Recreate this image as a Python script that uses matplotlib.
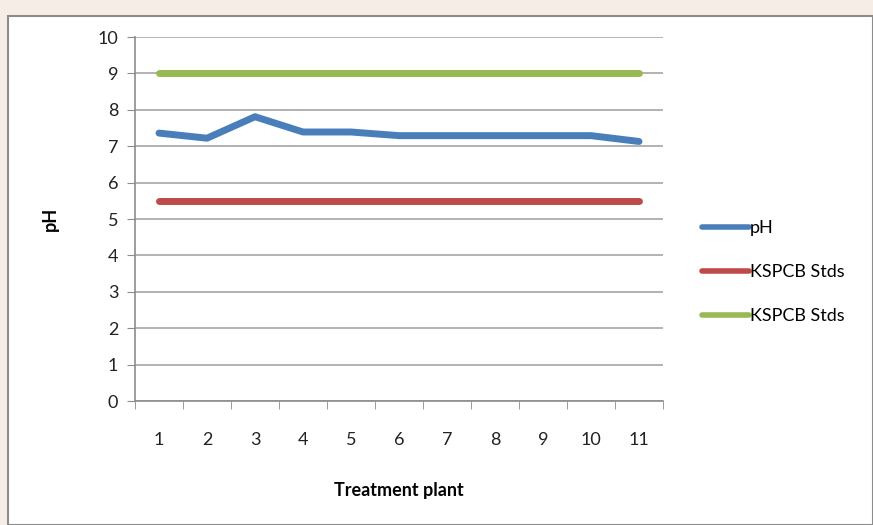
import matplotlib.pyplot as plt
from matplotlib.patches import Rectangle
from matplotlib.lines import Line2D

categories = [1, 2, 3, 4, 5, 6, 7, 8, 9, 10, 11]
ph = [7.36, 7.22, 7.81, 7.39, 7.39, 7.29, 7.29, 7.29, 7.29, 7.29, 7.13]
kspcb_low = [5.5] * 11
kspcb_high = [9.0] * 11
series_names = ["pH", "KSPCB Stds", "KSPCB Stds"]
colors = ["#4a7ebb", "#be4b48", "#98b954"]

plt.rcParams['font.family'] = ['Lato', 'DejaVu Sans']

fig = plt.figure(figsize=(8.73, 5.25), dpi=100)
fig.patch.set_facecolor("#f6eee6")
fig.add_artist(Rectangle((8/873, 0), 1 - 8/873, 1 - 16/525, transform=fig.transFigure,
                         facecolor="white", edgecolor="#8c8c8c", linewidth=1.5, zorder=0))

ax = fig.add_axes([135/873, 1 - 401/525, 528/873, 364/525])
ax.set_facecolor("white")
x = list(range(len(categories)))
l1, = ax.plot(x, ph, color=colors[0], lw=5, solid_capstyle='round', solid_joinstyle='round', zorder=3)
l2, = ax.plot(x, kspcb_low, color=colors[1], lw=5, solid_capstyle='round', zorder=3)
l3, = ax.plot(x, kspcb_high, color=colors[2], lw=5, solid_capstyle='round', zorder=3)

ax.set_xlim(-0.5, len(categories) - 0.5)
ax.set_ylim(0, 10)
ax.set_yticks(range(0, 11))
ax.set_xticks(x)
ax.set_xticklabels([str(c) for c in categories])
ax.set_xticks([i - 0.5 for i in range(len(categories) + 1)], minor=True)
ax.tick_params(axis='x', which='major', length=0, pad=22, labelsize=13, colors='#222222')
ax.tick_params(axis='x', which='minor', length=6, color='#8c8c8c', direction='out')
ax.tick_params(axis='y', length=6, color='#8c8c8c', labelsize=13, colors='#222222', pad=6)
ax.yaxis.grid(True, color='#a6a6a6', lw=1.2)
ax.set_axisbelow(True)
for s in ['top', 'right']:
    ax.spines[s].set_visible(False)
for s in ['left', 'bottom']:
    ax.spines[s].set_color('#8c8c8c')
    ax.spines[s].set_linewidth(1.2)

ax.set_xlabel("Treatment plant", fontsize=13, fontweight='bold', labelpad=25)
ax.set_ylabel("pH", fontsize=13, fontweight='bold', labelpad=28)

h1 = Line2D([], [], color=colors[0], lw=4, solid_capstyle='round')
h2 = Line2D([], [], color=colors[1], lw=4, solid_capstyle='round')
h3 = Line2D([], [], color=colors[2], lw=4, solid_capstyle='round')
leg = fig.legend([h1, h2, h3], series_names, loc='upper left', bbox_to_anchor=(686/873, 1 - 204/525),
                 frameon=False, fontsize=13, handlelength=2.6, handletextpad=0.05,
                 labelspacing=1.55)

fig.savefig("out.png", dpi=100, facecolor=fig.get_facecolor())
